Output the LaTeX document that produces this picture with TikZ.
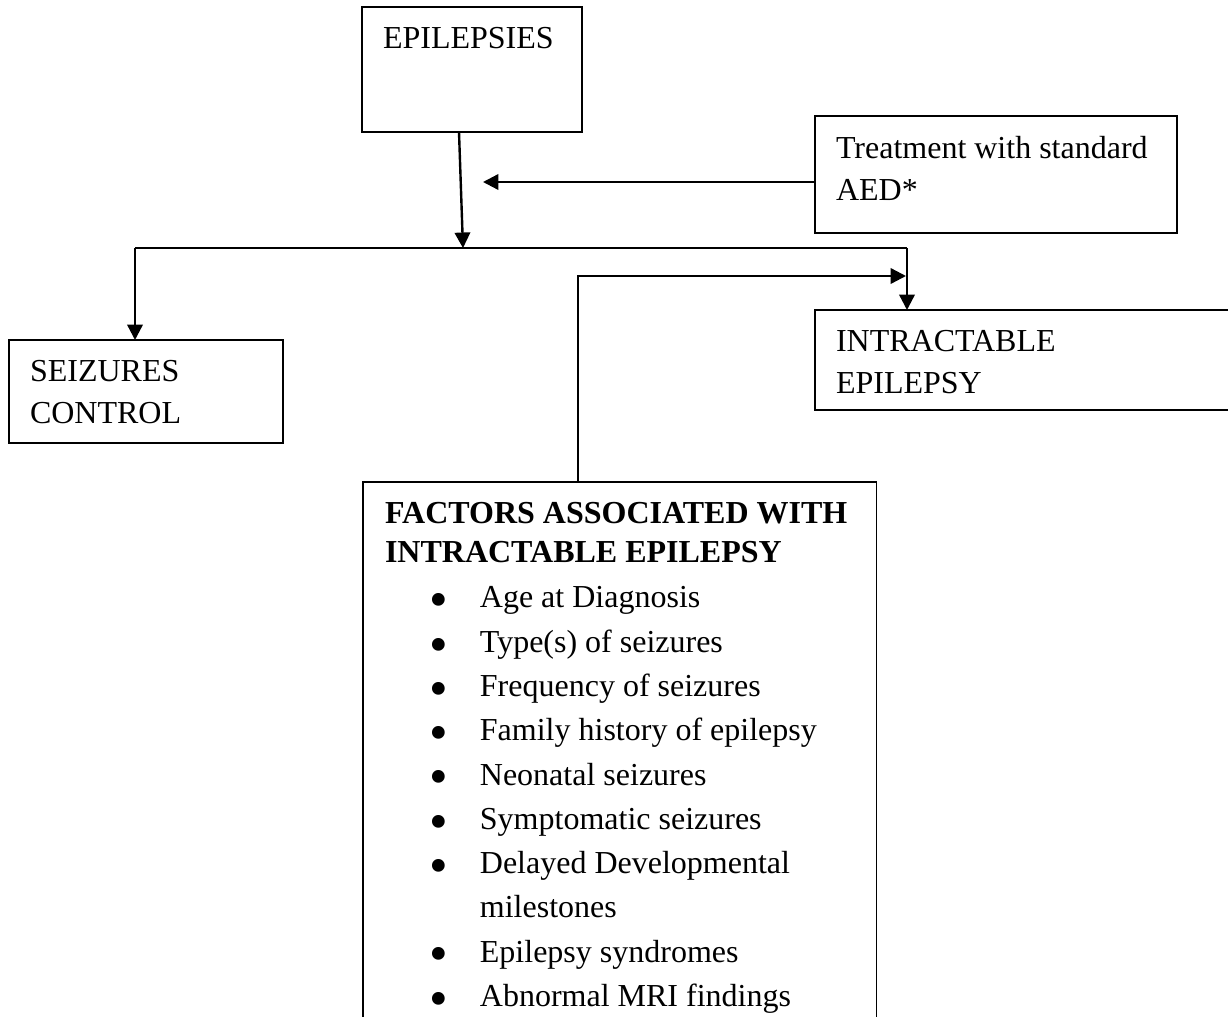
\documentclass[tikz,border=0pt]{standalone}
\usepackage{fontspec}
\setmainfont{Liberation Serif}
\usetikzlibrary{arrows.meta}
\usetikzlibrary{calc}
\usetikzlibrary{positioning}

\tikzset{
  blk/.style={draw, line width=0.6pt, anchor=north west, inner xsep=7.875pt,
    inner ysep=7.5pt, outer sep=0pt, font=\fontsize{12pt}{16pt}\selectfont},
  arr/.style={line width=0.9pt, -{Triangle[length=5.8pt,width=5.8pt]}},
  ln/.style={line width=0.9pt}
}
\newcommand{\boxtxt}[3]{\parbox[t][#2][t]{#1}{\raggedright\parskip=0pt #3}}
\newcommand{\blt}[1]{\mbox{\hspace{16.6pt}\makebox[19pt][l]{\smash{\raisebox{-3.7pt}{\fontsize{20pt}{0pt}\selectfont\textbullet}}}#1}}

\begin{document}
\begin{tikzpicture}[x=0.375pt, y=-0.375pt]
            \useasboundingbox (0,0) rectangle (1228,1017);
            \clip (0,0) rectangle (1228,1017);
            \node[blk] (epi) at (362,7) {\boxtxt{66.75pt}{31.875pt}{EPILEPSIES}};
            \node[blk] (aed) at (815,116) {\boxtxt{120pt}{28.875pt}{\mbox{Treatment with standard}\\AED*}};
            \node[blk] (ctrl) at (9,340) {\boxtxt{87pt}{23.625pt}{SEIZURES\\CONTROL}};
            \node[blk] (intr) at (815,310) {\boxtxt{147.4pt}{22.5pt}{INTRACTABLE\\EPILEPSY}};
            \node[blk, inner xsep=8.25pt] (fac) at (363,482) {\boxtxt{176pt}{198pt}{%
              {\bfseries\baselineskip=14.6pt \mbox{FACTORS ASSOCIATED WITH}\\\mbox{INTRACTABLE EPILEPSY}\par}
              \vspace{0.6pt}
              \baselineskip=16.6pt
              \blt{Age at Diagnosis}\\
              \blt{Type(s) of seizures}\\
              \blt{Frequency of seizures}\\
              \blt{Family history of epilepsy}\\
              \blt{Neonatal seizures}\\
              \blt{Symptomatic seizures}\\
              \blt{Delayed Developmental}\\
              \mbox{\hspace{35.6pt}milestones}\\
              \blt{Epilepsy syndromes}\\
              \blt{Abnormal MRI findings}\par}};

            \coordinate (split) at (463,248);
            \coordinate (jl) at (135,248);
            \coordinate (jr) at (907,248);
            \coordinate (aedtip) at (483,182);
            \coordinate (mrg) at (906,276);

            \draw[arr] ($(epi.south west)+(97,0)$) -- (split);
            \draw[arr] ($(aed.west)+(0,7.5)$) -- (aedtip);
            \draw[ln] (jl) -- (jr);
            \draw[arr] (jl) -- (jl |- ctrl.north);
            \draw[arr] (jr) -- (jr |- intr.north);
            \draw[arr] ($(fac.north west)+(215,0)$) |- (mrg);
        \end{tikzpicture}
\end{document}
